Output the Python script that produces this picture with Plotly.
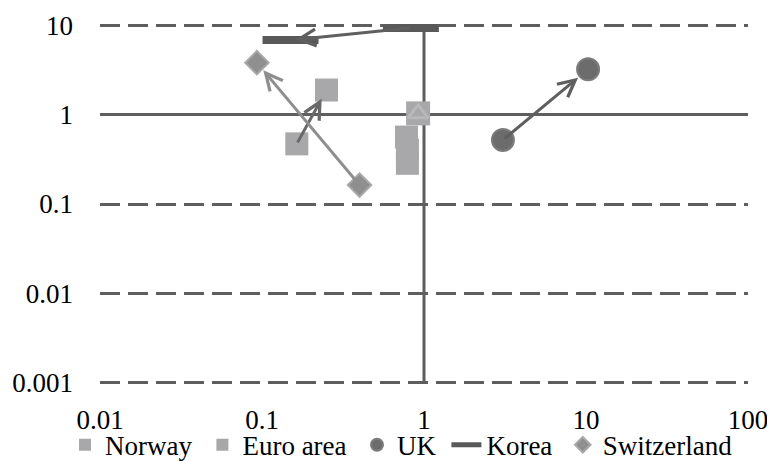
import numpy as np
import plotly.graph_objects as go

# ---- data ----
norway_x = [0.164, 0.25, 0.78, 0.79, 0.79]
norway_y = [0.47, 1.88, 0.56, 0.40, 0.285]
euro_x = [0.92]
euro_y = [1.03]
uk_x = [3.07, 10.3]
uk_y = [0.52, 3.2]
korea_x = [0.83, 0.15]
korea_y = [9.3, 6.8]
swiss_x = [0.40, 0.093]
swiss_y = [0.163, 3.8]

series_names = ["Norway", "Euro area", "UK", "Korea", "Switzerland"]

# arrows: (series x, series y, start index, end index, colour, standoff)
arrows = [
    (norway_x, norway_y, 0, 1, "#686868", 10),
    (uk_x, uk_y, 0, 1, "#5f5f5f", 13),
    (korea_x, korea_y, 0, 1, "#5f5f5f", 5),
    (swiss_x, swiss_y, 0, 1, "#8e8e8e", 10),
]

x_ticks = [0.01, 0.1, 1, 10, 100]
x_ticktext = ["0.01", "0.1", "1", "10", "100"]
y_ticks = [0.001, 0.01, 0.1, 1, 10]
y_ticktext = ["0.001", "0.01", "0.1", "1", "10"]

FONT = "Liberation Serif, Times New Roman, serif"
FS = 27
AX = "#5e5e5e"
PAD = "\u2009"  # thin trailing space widens legend spacing like the original

fig = go.Figure()

fig.add_trace(go.Scatter(
    x=norway_x, y=norway_y, mode="markers", name=series_names[0] + PAD,
    marker=dict(symbol="square", size=23, color="#a8a8aa",
                line=dict(width=0))))
fig.add_trace(go.Scatter(
    x=euro_x, y=euro_y, mode="markers", name=series_names[1] + PAD,
    legendgroup="euro",
    marker=dict(symbol="square", size=24, color="#a8a8aa",
                line=dict(width=0))))
fig.add_trace(go.Scatter(
    x=euro_x, y=euro_y, mode="markers", name=series_names[1],
    legendgroup="euro", showlegend=False,
    marker=dict(symbol="triangle-up-open", size=17, color="#b8b8ba",
                line=dict(width=3, color="#b8b8ba"))))
fig.add_trace(go.Scatter(
    x=uk_x, y=uk_y, mode="markers", name=series_names[2] + PAD,
    marker=dict(symbol="circle", size=22, color="#6c6c6c",
                line=dict(width=2, color="#7c7c7c"))))
fig.add_trace(go.Scatter(
    x=korea_x, y=korea_y, mode="markers", name=series_names[3],
    showlegend=False, legendgroup="korea",
    marker=dict(symbol="line-ew", size=40, color="#595959",
                line=dict(width=8, color="#595959"))))
# legend entry for Korea (thick dash)
fig.add_trace(go.Scatter(
    x=[None], y=[None], mode="lines", name=series_names[3] + PAD,
    legendgroup="korea", line=dict(color="#595959", width=8)))
fig.add_trace(go.Scatter(
    x=swiss_x, y=swiss_y, mode="markers", name=series_names[4],
    marker=dict(symbol="diamond", size=18, color="#8f8f8f",
                line=dict(width=2, color="#a8a8a8"))))

for xs, ys, i0, i1, col, so in arrows:
    fig.add_annotation(
        x=np.log10(xs[i1]), y=np.log10(ys[i1]),
        ax=np.log10(xs[i0]), ay=np.log10(ys[i0]),
        xref="x", yref="y", axref="x", ayref="y",
        showarrow=True, arrowhead=5, arrowsize=1.1, arrowwidth=3,
        arrowcolor=col, standoff=so, startstandoff=0, text="")

# axis lines crossing at (1, 1)
fig.add_shape(type="line", xref="x", yref="y", x0=x_ticks[0], x1=x_ticks[-1],
              y0=1, y1=1, line=dict(color=AX, width=3), layer="below")
fig.add_shape(type="line", xref="x", yref="y", x0=1, x1=1,
              y0=y_ticks[0], y1=y_ticks[-1],
              line=dict(color=AX, width=3), layer="below")
for tv in x_ticks:
    fig.add_shape(type="line", xref="x", yref="y", ysizemode="pixel",
                  yanchor=1, x0=tv, x1=tv, y0=0, y1=-7,
                  line=dict(color=AX, width=3), layer="below")

fig.update_xaxes(type="log", range=[-2, 2], tickvals=x_ticks,
                 ticktext=x_ticktext, showgrid=False, zeroline=False,
                 showline=False, ticks="", ticklabelstandoff=17,
                 tickfont=dict(family=FONT, size=FS, color="#000"))
fig.update_yaxes(type="log", range=[-3.012, 1.012], tickvals=y_ticks,
                 ticktext=y_ticktext, showgrid=True, gridcolor=AX,
                 gridwidth=3, griddash="20px,8px", zeroline=False,
                 showline=False, ticks="", ticklabelstandoff=26,
                 tickfont=dict(family=FONT, size=FS, color="#000"))

fig.update_layout(
    width=775, height=461,
    margin=dict(l=92, r=35, t=16, b=85, autoexpand=False),
    plot_bgcolor="white", paper_bgcolor="white",
    font=dict(family=FONT, size=FS, color="#000"),
    showlegend=True,
    legend=dict(orientation="h", x=-0.054, xanchor="left",
                y=-0.170, yanchor="middle", itemwidth=30,
                itemsizing="constant", tracegroupgap=0,
                font=dict(family=FONT, size=FS, color="#000"),
                bgcolor="rgba(0,0,0,0)"),
)

fig.write_html("out.html")
